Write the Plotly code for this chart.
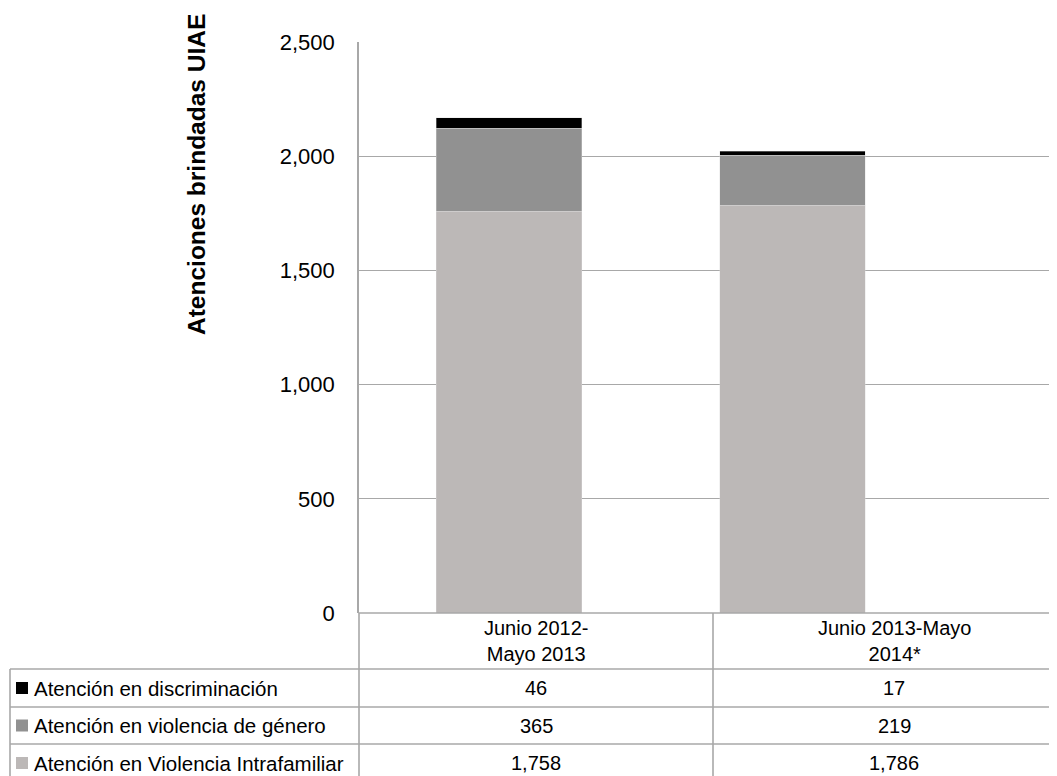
import plotly.graph_objects as go

# ---- data ----
categories = ["Junio 2012-<br>Mayo 2013", "Junio 2013-Mayo<br>2014*"]
series_names = ["Atención en Violencia Intrafamiliar",
                "Atención en violencia de género",
                "Atención en discriminación"]
intrafamiliar = [1758, 1786]
genero = [365, 219]
discriminacion = [46, 17]
y_ticks = [0, 500, 1000, 1500, 2000, 2500]
y_tick_labels = ["0", "500", "1,000", "1,500", "2,000", "2,500"]

colors = ["#BCB8B7", "#919191", "#000000"]
series_values = [intrafamiliar, genero, discriminacion]

# page body has an 8px margin; work in reference pixel coords and offset
OFF = 8
W, H = 1057 - OFF, 776 - OFF
L_ref, T_ref, Bot_ref = 359, 42, 613
L = L_ref - OFF
T = T_ref - OFF
B = H - (Bot_ref - OFF)
R = 0
PW = W - L - R
PH = H - T - B

def px(x):
    return (x - OFF - L) / PW

def py(y):
    return ((Bot_ref - OFF) - (y - OFF)) / PH

FONT = "Liberation Sans, Arial, sans-serif"
grid_col = "#A8A8A8"

fig = go.Figure()
xpos = [0, 1]
for name, vals, col in zip(series_names, series_values, colors):
    fig.add_trace(go.Bar(
        x=xpos, y=vals, name=name, width=0.514,
        marker=dict(color=col, line=dict(color="rgba(220,220,220,0.6)", width=0.6)),
        showlegend=False, hoverinfo="y+name"))

shapes = []
def hline(y, x0, x1):
    shapes.append(dict(type="line", xref="paper", yref="paper",
                       x0=px(x0), x1=px(x1), y0=py(y), y1=py(y),
                       line=dict(color=grid_col, width=1.6), layer="above"))
def vline(x, y0, y1):
    shapes.append(dict(type="line", xref="paper", yref="paper",
                       x0=px(x), x1=px(x), y0=py(y0), y1=py(y1),
                       line=dict(color=grid_col, width=1.6), layer="above"))

row_lines = [613, 669, 707, 744, 782]
col_lines = [359, 713, 1075]
hline(613, 359, 1075)
for y in row_lines[1:]:
    hline(y, 10, 1075)
vline(10, 669, 782)
vline(359, 613, 782)
vline(713, 613, 782)
vline(1075, 613, 782)

annotations = []
col_centers = [(col_lines[0] + col_lines[1]) / 2, (col_lines[1] + col_lines[2]) / 2]
for c, cat in zip(col_centers, categories):
    annotations.append(dict(x=px(c), y=py(641), xref="paper", yref="paper",
                            text=cat, showarrow=False, xanchor="center", yanchor="middle",
                            font=dict(family=FONT, size=20, color="#000")))

# table rows: order top->bottom
table_rows = [("Atención en discriminación", discriminacion, colors[2]),
              ("Atención en violencia de género", genero, colors[1]),
              ("Atención en Violencia Intrafamiliar", intrafamiliar, colors[0])]
for i, (label, vals, col) in enumerate(table_rows):
    yc = (row_lines[i + 1] + row_lines[i + 2]) / 2
    shapes.append(dict(type="rect", xref="paper", yref="paper",
                       x0=px(16), x1=px(28), y0=py(yc - 6), y1=py(yc + 6),
                       fillcolor=col, line=dict(width=0)))
    annotations.append(dict(x=px(32), y=py(yc), xref="paper", yref="paper",
                            text=label, showarrow=False, xanchor="left", yanchor="middle",
                            font=dict(family=FONT, size=20.5, color="#000")))
    for c, v in zip(col_centers, vals):
        annotations.append(dict(x=px(c), y=py(yc), xref="paper", yref="paper",
                                text=f"{v:,}", showarrow=False, xanchor="center", yanchor="middle",
                                font=dict(family=FONT, size=20, color="#000")))

annotations.append(dict(x=px(196), y=py(175), xref="paper", yref="paper",
                        text="<b>Atenciones brindadas UIAE</b>", textangle=-90,
                        showarrow=False, xanchor="center", yanchor="middle",
                        font=dict(family=FONT, size=24.5, color="#000")))

fig.update_layout(
    width=W, height=H, barmode="stack",
    margin=dict(l=L, r=R, t=T, b=B, pad=0),
    paper_bgcolor="white", plot_bgcolor="white",
    shapes=shapes, annotations=annotations,
    xaxis=dict(range=[-0.529, 1.933], showticklabels=False, showgrid=False,
               zeroline=False, fixedrange=True),
    yaxis=dict(range=[0, 2500], tickvals=y_ticks, ticktext=y_tick_labels,
               showgrid=True, gridcolor=grid_col, gridwidth=1.2,
               showline=True, linecolor=grid_col, linewidth=1.6,
               zeroline=False, ticks="outside", ticklen=0,
               ticklabelstandoff=18,
               tickfont=dict(family=FONT, size=22, color="#000")),
    font=dict(family=FONT),
)

fig.write_html("out.html")
